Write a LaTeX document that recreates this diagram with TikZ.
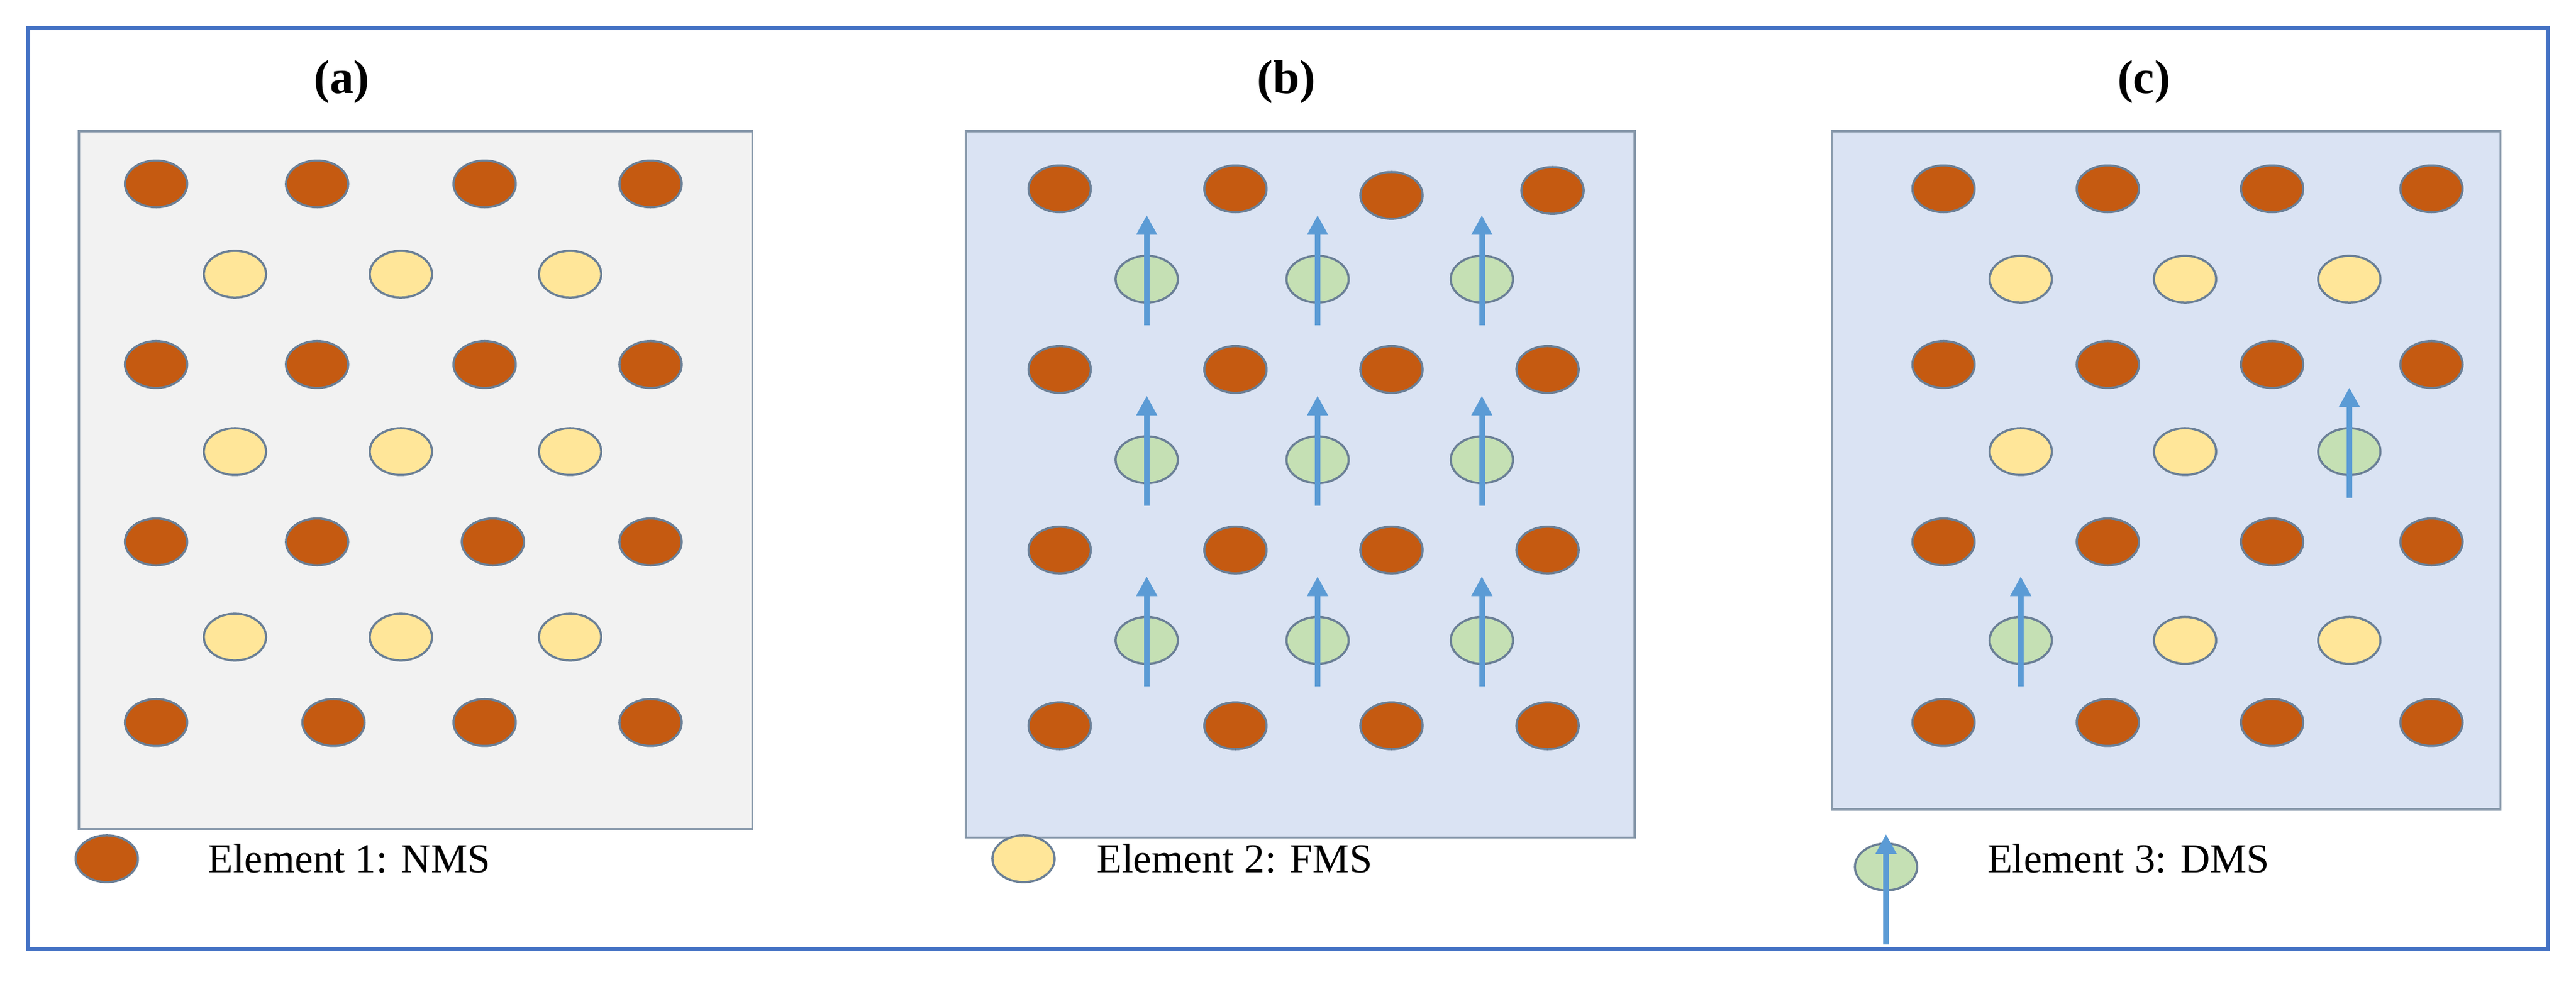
\documentclass[tikz,border=0pt]{standalone}
\usepackage{fontspec}
\setmainfont{Liberation Serif}
\usetikzlibrary{shapes.geometric,calc,arrows.meta}
\definecolor{frameblue}{HTML}{4472C4}
\definecolor{nms}{HTML}{C55A11}
\definecolor{fms}{HTML}{FFE699}
\definecolor{dms}{HTML}{C5E0B4}
\definecolor{arr}{HTML}{5B9BD5}
\definecolor{edge}{HTML}{6A7F96}
\definecolor{pa}{HTML}{F2F2F2}
\definecolor{pb}{HTML}{DAE3F3}
\tikzset{
 dot/.style={ellipse,draw=edge,line width=0.35mm,minimum width=10.1mm,minimum height=7.6mm,inner sep=0pt},
 nmsdot/.style={dot,fill=nms},
 fmsdot/.style={dot,fill=fms},
 dmsdot/.style={dot,fill=dms},
 spin/.style={draw=arr,line width=0.9mm,-{Triangle[length=3.2mm,width=3.2mm]}},
 panel/.style={draw=edge!80,line width=0.35mm},
 ttl/.style={font=\fontsize{22}{26}\selectfont\bfseries},
 leg/.style={font=\fontsize{19}{23}\selectfont,anchor=west}
}
\begin{document}
\begin{tikzpicture}[x=0.2666mm,y=-0.2666mm]
\useasboundingbox (0,0) rectangle (1568,598);
\draw[frameblue,line width=0.7mm] (17,17) rectangle (1551,578);
\node[ttl] (ta) at (208,50) {(a)};
\node[ttl] (tb) at (783,50) {(b)};
\node[ttl] (tc) at (1305,50) {(c)};
\draw[panel,fill=pa] (48,80) rectangle (458,505);
\draw[panel,fill=pb] (588,80) rectangle (995,510);
\draw[panel,fill=pb] (1115,80) rectangle (1522,493);
% panel a
\foreach \r/\y in {1/112,3/222}{
 \foreach \c/\x in {1/95,2/193,3/295,4/396}{\node[nmsdot] (a\r\c) at (\x,\y) {};}}
\foreach \c/\x in {1/95,2/193,3/300,4/396}{\node[nmsdot] (a5\c) at (\x,330) {};}
\foreach \c/\x in {1/95,2/203,3/295,4/396}{\node[nmsdot] (a7\c) at (\x,440) {};}
\foreach \r/\y in {2/167,4/275,6/388}{
 \foreach \c/\x in {1/143,2/244,3/347}{\node[fmsdot] (a\r\c) at (\x,\y) {};}}
% panel b
\foreach \c/\x/\y in {1/645/115,2/752/115,3/847/119,4/945/116}{\node[nmsdot] (b1\c) at (\x,\y) {};}
\foreach \r/\y in {3/225,5/335,7/442}{
 \foreach \c/\x in {1/645,2/752,3/847,4/942}{\node[nmsdot] (b\r\c) at (\x,\y) {};}}
\foreach \r/\y in {2/170,4/280,6/390}{
 \foreach \c/\x in {1/698,2/802,3/902}{\node[dmsdot] (b\r\c) at (\x,\y) {};
  \draw[spin] ($(b\r\c.center)+(0,28)$) -- ($(b\r\c.center)+(0,-39)$);}}
% panel c
\foreach \r/\y in {1/115,3/222,5/330,7/440}{
 \foreach \c/\x in {1/1183,2/1283,3/1383,4/1480}{\node[nmsdot] (c\r\c) at (\x,\y) {};}}
\foreach \c/\x in {1/1230,2/1330,3/1430}{\node[fmsdot] (c2\c) at (\x,170) {};}
\foreach \c/\x in {1/1230,2/1330}{\node[fmsdot] (c4\c) at (\x,275) {};}
\foreach \c/\x in {2/1330,3/1430}{\node[fmsdot] (c6\c) at (\x,390) {};}
\node[dmsdot] (c43) at (1430,275) {};
\draw[spin] ($(c43.center)+(0,28)$) -- ($(c43.center)+(0,-39)$);
\node[dmsdot] (c61) at (1230,390) {};
\draw[spin] ($(c61.center)+(0,28)$) -- ($(c61.center)+(0,-39)$);
% legend
\node[nmsdot] (l1) at (65,523) {};
\node[leg] (l1t) at (122,523) {Element 1: NMS};
\node[fmsdot] (l2) at (623,523) {};
\node[leg] (l2t) at (663,523) {Element 2: FMS};
\node[dmsdot] (l3) at (1148,528) {};
\draw[spin] ($(l3.center)+(0,47)$) -- ($(l3.center)+(0,-20)$);
\node[leg] (l3t) at (1205,523) {Element 3: DMS};
\end{tikzpicture}
\end{document}
